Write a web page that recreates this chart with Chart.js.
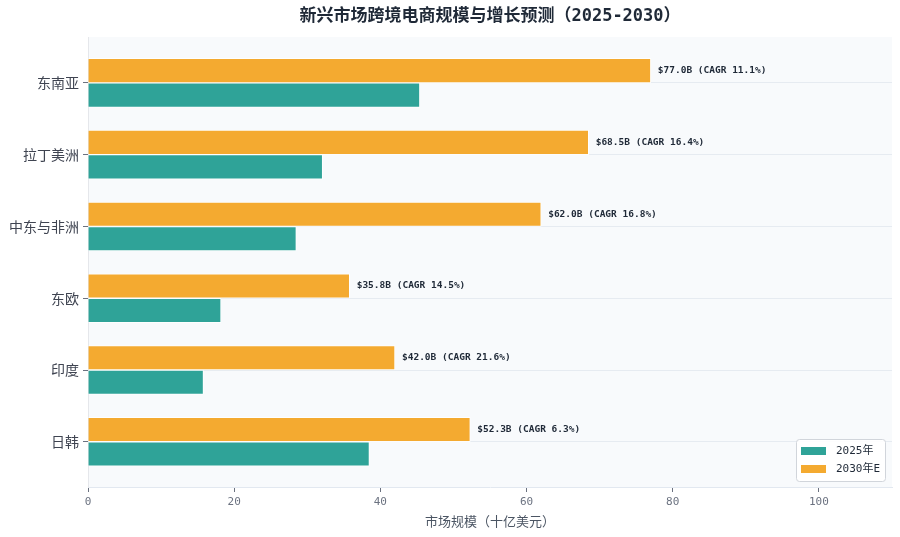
<!DOCTYPE html>
<html>
<head>
<meta charset="utf-8">
<script src="https://cdn.jsdelivr.net/npm/chart.js@4"></script>
<style>
  html, body { margin: 0; padding: 0; background: #ffffff; }
  #wrap { width: 900px; height: 537px; }
</style>
</head>
<body>
<div id="wrap"><canvas id="marketChart" width="900" height="537"></canvas></div>
<script>
// data
const regions = ['东南亚', '拉丁美洲', '中东与非洲', '东欧', '印度', '日韩'];
const size2025 = [45.4, 32.1, 28.5, 18.2, 15.8, 38.5];
const size2030 = [77.0, 68.5, 62.0, 35.8, 42.0, 52.3];
const cagr = [11.1, 16.4, 16.8, 14.5, 21.6, 6.3];
const xTicks = [0, 20, 40, 60, 80, 100];

const TEAL = '#2fa398';
const ORANGE = '#f4aa30';
const MONO = '"DejaVu Sans Mono", "Noto Sans CJK SC", monospace';
const SANS = '"Noto Sans CJK SC", "Noto Sans", sans-serif';

// plot background + title
const backdrop = {
  id: 'backdrop',
  beforeDraw(chart) {
    const { ctx, chartArea: a } = chart;
    ctx.save();
    ctx.fillStyle = '#f8fafc';
    ctx.fillRect(a.left, a.top, a.right - a.left, a.bottom - a.top);
    ctx.fillStyle = '#1f2937';
    ctx.font = 'bold 17px ' + MONO;
    ctx.textAlign = 'center';
    ctx.textBaseline = 'middle';
    ctx.fillText('新兴市场跨境电商规模与增长预测（2025-2030）', (a.left + a.right) / 2, 17);
    ctx.restore();
  }
};

// "$77.0B (CAGR 11.1%)" next to each 2030 bar
const barLabels = {
  id: 'barLabels',
  afterDatasetsDraw(chart) {
    const { ctx } = chart;
    const meta = chart.getDatasetMeta(0);
    ctx.save();
    ctx.fillStyle = '#1f2937';
    ctx.font = 'bold 9.5px ' + MONO;
    ctx.textAlign = 'left';
    ctx.textBaseline = 'middle';
    meta.data.forEach((bar, i) => {
      const txt = '$' + size2030[i].toFixed(1) + 'B (CAGR ' + cagr[i].toFixed(1) + '%)';
      ctx.fillText(txt, bar.x + 7, bar.y);
    });
    ctx.restore();
  }
};

// legend box in the lower right corner of the plot
const cornerLegend = {
  id: 'cornerLegend',
  afterDraw(chart) {
    const { ctx, chartArea: a } = chart;
    const w = 89, h = 42;
    const x = a.right - 7 - w, y = a.bottom - 6 - h;
    ctx.save();
    ctx.fillStyle = 'rgba(255,255,255,0.9)';
    ctx.strokeStyle = '#d1d5db';
    ctx.lineWidth = 1;
    ctx.beginPath();
    ctx.roundRect(x + 0.5, y + 0.5, w, h, 3);
    ctx.fill();
    ctx.stroke();
    const items = [chart.data.datasets[1], chart.data.datasets[0]];
    ctx.font = '11px ' + MONO;
    ctx.textAlign = 'left';
    ctx.textBaseline = 'middle';
    items.forEach((ds, i) => {
      const cy = y + 12 + i * 18;
      ctx.fillStyle = ds.backgroundColor;
      ctx.fillRect(x + 5, cy - 4, 25, 8);
      ctx.fillStyle = '#1f2937';
      ctx.fillText(ds.label, x + 40, cy);
    });
    ctx.restore();
  }
};

new Chart(document.getElementById('marketChart'), {
  type: 'bar',
  data: {
    datasets: [
      {
        label: '2030年E',
        data: size2030.map((v, i) => ({ x: v, y: i })),
        backgroundColor: ORANGE,
        borderColor: 'rgba(255,255,255,0.85)',
        borderWidth: 1,
        barThickness: 24.5
      },
      {
        label: '2025年',
        data: size2025.map((v, i) => ({ x: v, y: i })),
        backgroundColor: TEAL,
        borderColor: 'rgba(255,255,255,0.85)',
        borderWidth: 1,
        barThickness: 24.5
      }
    ]
  },
  options: {
    indexAxis: 'y',
    responsive: false,
    animation: false,
    layout: { padding: { top: 37, right: 8, left: 0, bottom: 0 } },
    plugins: {
      legend: { display: false },
      tooltip: { enabled: false }
    },
    scales: {
      x: {
        type: 'linear',
        min: 0,
        max: 110,
        afterFit: (s) => { s.height = 50; },
        afterBuildTicks: (s) => { s.ticks = xTicks.map(v => ({ value: v })); },
        grid: { drawOnChartArea: false, tickLength: 5, tickColor: '#6b7280' },
        border: { color: '#e2e8f0' },
        ticks: { color: '#6b7280', font: { family: MONO, size: 11 }, padding: 4 },
        title: {
          display: true,
          text: '市场规模（十亿美元）',
          color: '#4b5563',
          font: { family: SANS, size: 13 },
          padding: { top: 8, bottom: 8 }
        }
      },
      y: {
        type: 'linear',
        reverse: true,
        offset: false,
        min: -0.64,
        max: 5.63,
        afterFit: (s) => { s.width = 88; },
        afterBuildTicks: (s) => { s.ticks = regions.map((_, i) => ({ value: i })); },
        grid: { offset: false, color: 'rgba(203,213,225,0.4)', tickLength: 5, tickColor: '#6b7280' },
        border: { color: '#e5e7eb' },
        ticks: {
          color: '#3f4451',
          font: { family: SANS, size: 14 },
          padding: 4,
          callback: (v) => regions[v]
        }
      }
    }
  },
  plugins: [backdrop, barLabels, cornerLegend]
});
</script>
</body>
</html>
